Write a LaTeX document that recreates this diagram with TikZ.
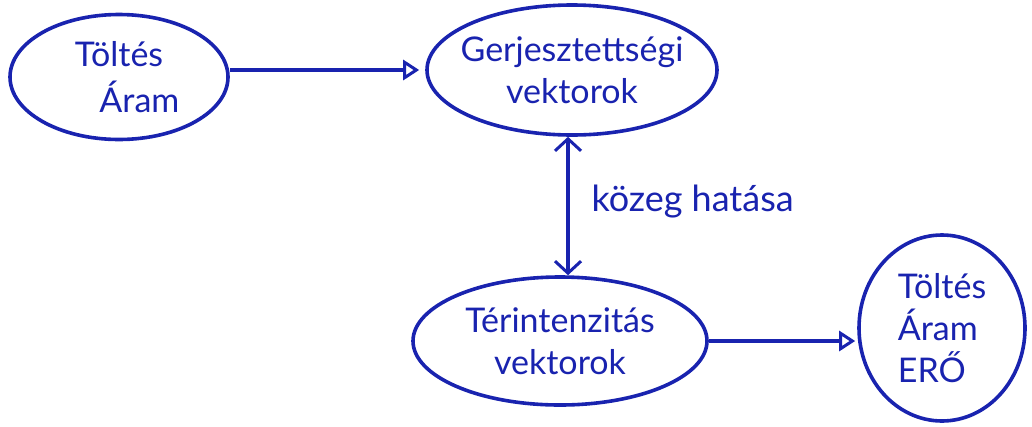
\documentclass[tikz,border=0pt]{standalone}
\usepackage{fontspec}
\setmainfont{Lato}
\usetikzlibrary{shapes.geometric,arrows.meta}
\definecolor{ink}{RGB}{25,35,175}
\tikzset{barbtip/.tip={Straight Barb[length=12pt,width=26pt,line width=3pt]}}
\begin{document}
\begin{tikzpicture}[x=1pt,y=-1pt,
  blob/.style={ellipse,draw=ink,line width=3.6pt,inner sep=0pt,align=center,text=ink,
    font=\fontsize{34}{42}\selectfont},
  conn/.style={draw=ink,line width=3.2pt},
  opentip/.style={-{Triangle[open,length=16pt,width=20pt,line width=3pt]}},
  lbl/.style={text=ink,font=\fontsize{36}{40}\selectfont}]
\useasboundingbox (0,0) rectangle (1032,426);
\node[blob,minimum width=218pt,minimum height=125pt] (n1) at (119,77) {Töltés\\[4pt]\hspace*{1.2em}Áram};
\node[blob,inner xsep=-14pt,minimum width=290pt,minimum height=130pt] (n2) at (572,70) {Gerjesztettségi\\vektorok};
\node[blob,minimum width=294pt,minimum height=128pt] (n3) at (560,341) {Térintenzitás\\vektorok};
\node[blob,align=left,minimum width=166pt,minimum height=186pt] (n4) at (942,328) {Töltés\\Áram\\ERŐ};
\coordinate (a1) at ([yshift=7pt]n1.east);
\draw[conn,opentip,shorten >=6pt] (a1) -- (a1 -| n2.west);
\draw[conn,barbtip-barbtip]
  ([xshift=-4pt]n2.south) -- ([xshift=-4pt]n2.south |- n3.north);
\node[lbl,anchor=west] (lab) at (588,202) {közeg hatása};
\draw[conn,opentip,shorten >=2pt] (n3.east) -- (n3.east -| n4.west);
\end{tikzpicture}
\end{document}
